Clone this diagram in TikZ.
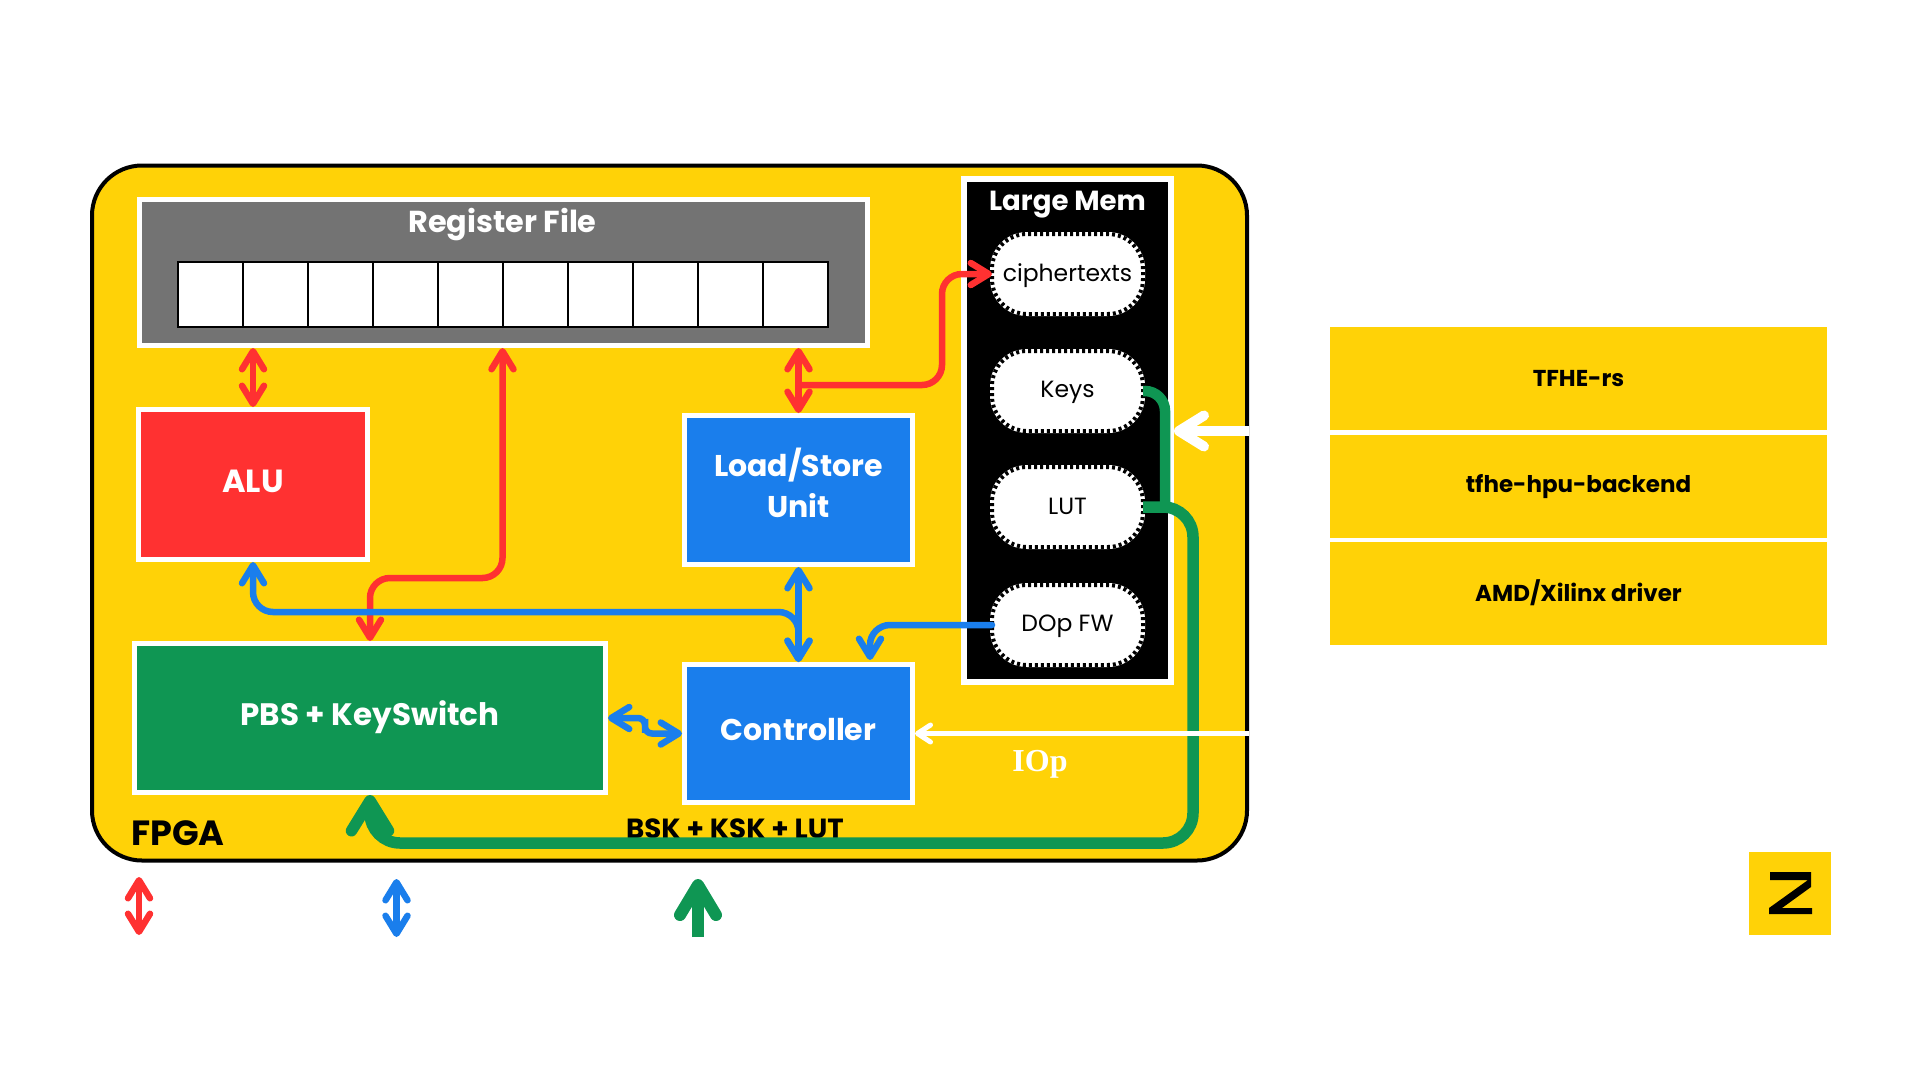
\documentclass[tikz,border=0pt]{standalone}
\usepackage{fontspec}
\usetikzlibrary{arrows.meta,calc}
\newfontfamily\pop{Poppins}
\newfontfamily\serifb{Liberation Serif}
\definecolor{ye}{HTML}{FFD207}
\definecolor{re}{HTML}{FF3131}
\definecolor{bl}{HTML}{1A7EEC}
\definecolor{gr}{HTML}{0F9653}
\definecolor{gy}{HTML}{737373}
\tikzset{
  block/.style={draw=white,line width=5pt,minimum width=#1},
  blocktext/.style={text=white,font=\pop\bfseries\fontsize{30}{41.5}\selectfont,align=center},
  tag/.style={font=\pop\bfseries\fontsize{23}{28}\selectfont,text=black},
  pill/.style={fill=white,rounded corners=35pt,minimum width=151pt,minimum height=80pt,inner sep=0pt,outer sep=0pt},
  pilltext/.style={font=\pop\fontsize{23.5}{26}\selectfont},
  stackbox/.style={fill=ye,minimum width=497pt,minimum height=103pt,inner sep=0pt,font=\pop\bfseries\fontsize{23}{26}\selectfont},
  cell/.style={draw=black,fill=white,line width=2pt,minimum width=65pt,minimum height=65pt,inner sep=0pt,outer sep=0pt},
  thin/.style={line width=6.5pt,line cap=round,rounded corners=20pt},
  redw/.style={thin,draw=re,{Straight Barb[round,length=18pt,width=22pt]}-{Straight Barb[round,length=18pt,width=22pt]}},
  bluew/.style={thin,draw=bl,{Straight Barb[round,length=18pt,width=22pt]}-{Straight Barb[round,length=18pt,width=22pt]}},
  blueone/.style={thin,draw=bl,-{Straight Barb[round,length=18pt,width=22pt]}},
  redone/.style={thin,draw=re,-{Straight Barb[round,length=18pt,width=22pt]}},
  greenw/.style={draw=gr,line width=11.5pt,rounded corners=30pt},
  greentip/.style={-{Straight Barb[round,length=30pt,width=37pt]}}
}
\begin{document}
\begin{tikzpicture}[x=1pt,y=-1pt]
\useasboundingbox (0,0) rectangle (1920,1080);
\fill[white] (0,0) rectangle (1920,1080);
% FPGA
\node[draw=black,fill=ye,line width=4pt,rounded corners=50pt,minimum width=1155pt,minimum height=695pt,inner sep=0pt] (fpga) at (669.5,513) {};
\node[tag,font=\pop\bfseries\fontsize{35}{40}\selectfont] (fpgal) at (178,833) {FPGA};
% Register file
\node[block=728pt,fill=gy,minimum height=146pt] (rf) at (503,272.5) {};
\node[blocktext,font=\pop\bfseries\fontsize{30.3}{36}\selectfont] (rft) at (502.5,225) {Register File};
\foreach \i in {0,...,9}{
  \node[cell] (c\i) at ({210+65*\i},294.5) {};
}
% blocks
\node[block=229pt,fill=re,minimum height=150pt] (alu) at (253,484.5) {};
\node[blocktext,font=\pop\bfseries\fontsize{32}{40}\selectfont] (alut) at (253,481) {ALU};
\node[block=228pt,fill=bl,minimum height=149pt] (lsu) at (798.5,490) {};
\node[blocktext] (lsut) at (798.5,483) {Load/Store\\Unit};
\node[block=228pt,fill=bl,minimum height=138pt] (ctrl) at (798.5,733.5) {};
\node[blocktext] (ctrlt) at (798.5,730) {Controller};
\node[block=471pt,fill=gr,minimum height=149pt] (pbs) at (370,718) {};
\node[blocktext,font=\pop\bfseries\fontsize{31}{36}\selectfont] (pbst) at (370,717) {PBS + KeySwitch};
% Large mem
\node[draw=white,fill=black,line width=6pt,minimum width=207pt,minimum height=503pt,inner sep=0pt] (lm) at (1067.5,430.5) {};
\node[blocktext,font=\pop\bfseries\fontsize{27.6}{32}\selectfont] (lmt) at (1067.5,205) {Large Mem};
\node[pill] (ct) at (1067.5,274) {};
\node[pill] (keys) at (1067.5,391) {};
\node[pill] (lut) at (1067.5,507) {};
\node[pill] (dop) at (1067.5,625) {};
\foreach \n in {ct,keys,lut,dop}{
  \draw[white,line width=4pt,rounded corners=35pt] (\n.south west) rectangle (\n.north east);
  \draw[black,line width=4pt,rounded corners=35pt,dash pattern=on 3pt off 3pt] (\n.south west) rectangle (\n.north east);
}
\node[pilltext] (ctt) at (1067.5,276) {ciphertexts};
\node[pilltext] (keyst) at (1067.5,392) {Keys};
\node[pilltext] (lutt) at (1067.5,506) {LUT};
\node[pilltext] (dopt) at (1067.5,626) {DOp FW};
% labels
\node[tag,font=\pop\bfseries\fontsize{27.7}{32}\selectfont] (bsk) at (735,829) {BSK + KSK + LUT};
\node[text=white,font=\serifb\bfseries\fontsize{32}{36}\selectfont] (iop) at (1040,764) {IOp};
% coordinates
\coordinate (busp) at (253,612);
\coordinate (rfbend) at (502.5,578);
\coordinate (lsubr) at (798.5,385);
\coordinate (lsuup) at (942,385);
\coordinate (ctin) at (870,660);
\coordinate (gcor) at (1193,507);
\coordinate (gbot) at (1193,843);
\coordinate (gleft) at (370,843);
\coordinate (kbot) at (1165,507);
\coordinate (iopr) at (1249,733.5);
\coordinate (memr) at (1249,431);
\coordinate (memt) at (1174,431);
% connectors
\draw[redw] (rf.south -| alu.north) -- (alu.north);
\draw[redw] (rf.south -| pbs.north) ++(132.5,0) -- (rfbend) -| (pbs.north);
\draw[bluew] (alu.south) |- (busp -| ctrl.north) -- (ctrl.north);
\draw[bluew] (lsu.south) -- (ctrl.north);
\draw[blueone] (dop.west) -| (ctin);
\draw[bluew,rounded corners=7pt] (pbs.east) -| ($(pbs.east)!.5!(ctrl.west)$) |- (ctrl.west);
\draw[redw] (rf.south -| lsu.north) -- (lsu.north);
\draw[redone] (lsubr) -- (lsuup) |- (ct.west);
\draw[greenw,rounded corners=20pt,line width=10.5pt] (keys.east) -| (kbot);
\draw[greenw,greentip] (lut.east) -- (gcor) -- (gbot) -- (gleft) -- (pbs.south);
\draw[white,line width=10pt,line cap=butt,-{Straight Barb[round,length=25pt,width=31pt]}] (memr) -- (memt);
\draw[white,line width=5pt,-{Straight Barb[round,length=13pt,width=17pt]}] (iopr) -- (ctrl.east);
% legend
\coordinate (la1) at (139,877); \coordinate (la2) at (139,935);
\coordinate (lb1) at (396.5,879); \coordinate (lb2) at (396.5,937);
\coordinate (lc1) at (698,879); \coordinate (lc2) at (698,937);
\draw[redw] (la1) -- (la2);
\draw[bluew] (lb1) -- (lb2);
\draw[draw=gr,line width=12pt,-{Straight Barb[round,length=30pt,width=36pt]}] (lc2) -- (lc1);
% stack
\node[stackbox] (s1) at (1578.5,378.5) {TFHE-rs};
\node[stackbox] (s2) at (1578.5,486.5) {tfhe-hpu-backend};
\node[stackbox] (s3) at (1578.5,593) {AMD/Xilinx driver};
% logo
\node[fill=ye,minimum width=82pt,minimum height=83pt,inner sep=0pt] (logo) at (1790,893.5) {};
\fill[black] (1770,872)--(1811,872)--(1811,887)--(1782,908)--(1812,908)--(1812,914)--(1769,914)--(1769,908)--(1808,880)--(1770,880)--cycle;
\end{tikzpicture}
\end{document}
